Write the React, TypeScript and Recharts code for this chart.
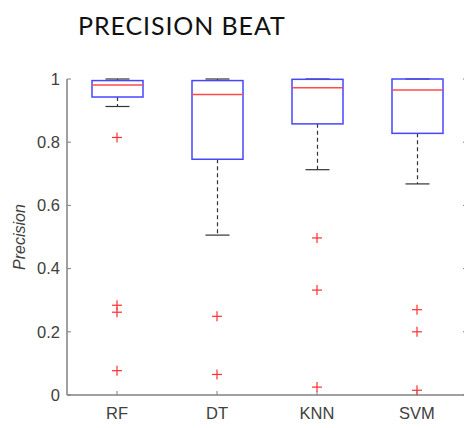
import { ComposedChart, Bar, Scatter, XAxis, YAxis, ReferenceLine } from 'recharts';

const categories = ['RF', 'DT', 'KNN', 'SVM'];
const q1 = [0.943, 0.746, 0.858, 0.828];
const medians = [0.981, 0.951, 0.972, 0.965];
const q3 = [0.995, 0.995, 0.999, 1.0];
const whiskerLow = [0.913, 0.506, 0.713, 0.668];
const whiskerHigh = [1.0, 1.0, 1.0, 1.0];
const outliers = [
  [0.815, 0.284, 0.262, 0.077],
  [0.249, 0.065],
  [0.497, 0.332, 0.025],
  [0.27, 0.2, 0.015],
];
const yTicks = [0, 0.2, 0.4, 0.6, 0.8, 1];

const data = categories.map((name, i) => ({
  name,
  box: [q1[i], q3[i]],
  q1: q1[i],
  q3: q3[i],
  median: medians[i],
  lo: whiskerLow[i],
  hi: whiskerHigh[i],
  o1: outliers[i][0] ?? null,
  o2: outliers[i][1] ?? null,
  o3: outliers[i][2] ?? null,
  o4: outliers[i][3] ?? null,
}));

const AXIS = '#808080';
const TEXT = '#404040';
const FONT = '"Liberation Sans", Arial, sans-serif';

// box + median + whiskers, positions derived from the bar the scale gave us
const BoxShape = (props: any) => {
  const { x, y, width, height, payload } = props;
  if (!payload || !isFinite(y)) return <g />;
  const ppu = height / (payload.q3 - payload.q1);
  const toY = (v: number) => y + (payload.q3 - v) * ppu;
  const cx = x + width / 2;
  const cap = 12;
  return (
    <g>
      <line x1={cx} x2={cx} y1={toY(payload.q3)} y2={toY(payload.hi)} stroke="#333" strokeWidth={1.2} strokeDasharray="4 3" />
      <line x1={cx} x2={cx} y1={toY(payload.q1)} y2={toY(payload.lo)} stroke="#333" strokeWidth={1.2} strokeDasharray="4 3" />
      <line x1={cx - cap} x2={cx + cap} y1={toY(payload.hi)} y2={toY(payload.hi)} stroke="#333" strokeWidth={1.2} />
      <line x1={cx - cap} x2={cx + cap} y1={toY(payload.lo)} y2={toY(payload.lo)} stroke="#333" strokeWidth={1.2} />
      <rect x={x} y={y} width={width} height={height} fill="none" stroke="#4646ff" strokeWidth={1.5} />
      <line x1={x} x2={x + width} y1={toY(payload.median)} y2={toY(payload.median)} stroke="#ff4a4a" strokeWidth={1.5} />
    </g>
  );
};

const PlusShape = (props: any) => {
  const { cx, cy, payload, field } = props;
  if (!payload || payload[field] == null || !isFinite(cx) || !isFinite(cy)) return <g />;
  const s = 5;
  return (
    <g stroke="#ff3030" strokeWidth={1.2}>
      <line x1={cx - s} x2={cx + s} y1={cy} y2={cy} />
      <line x1={cx} x2={cx} y1={cy - s} y2={cy + s} />
    </g>
  );
};

const LeftTick = (props: any) => {
  const { x, y, payload } = props;
  return (
    <g>
      <line x1={x + 7} x2={x + 11} y1={y} y2={y} stroke={AXIS} />
      <text x={x} y={y} dy="0.35em" textAnchor="end" fill={TEXT} fontSize={16.5} fontFamily={FONT}>
        {payload.value}
      </text>
    </g>
  );
};

const RightTick = (props: any) => {
  const { x, y } = props;
  return <line x1={x} x2={x - 4} y1={y} y2={y} stroke={AXIS} />;
};

const BottomTick = (props: any) => {
  const { x, y, payload } = props;
  return (
    <g>
      <line x1={x} x2={x} y1={y - 12} y2={y - 16} stroke={AXIS} />
      <text x={x} y={y} dy="0.71em" textAnchor="middle" fill={TEXT} fontSize={16.5} fontFamily={FONT}>
        {payload.value}
      </text>
    </g>
  );
};

const outlierFields = ['o1', 'o2', 'o3', 'o4'];

export default function App() {
  return (
    <div style={{ position: 'relative', width: 464, height: 428, overflow: 'hidden', background: '#fff' }}>
      <style>{'body{margin:0;overflow:hidden}'}</style>
      <div
        style={{
          position: 'absolute',
          left: 78,
          top: 10,
          fontFamily: 'Lato, "Noto Sans", sans-serif',
          fontSize: 25,
          color: '#111',
          letterSpacing: 0.9,
          lineHeight: '30px',
          whiteSpace: 'nowrap',
        }}
      >
        PRECISION BEAT
      </div>
      <ComposedChart
        width={480}
        height={428}
        data={data}
        margin={{ top: 79, right: 0, bottom: 0, left: 0 }}
        barSize={51}
      >
        <ReferenceLine y={1} stroke={AXIS} strokeWidth={1.5} />
        <XAxis
          dataKey="name"
          height={33}
          axisLine={{ stroke: AXIS, strokeWidth: 1.5 }}
          tickLine={false}
          tickSize={0}
          tickMargin={12}
          tick={<BottomTick />}
          interval={0}
        />
        <YAxis
          yAxisId="left"
          width={67}
          domain={[0, 1]}
          ticks={yTicks}
          axisLine={{ stroke: AXIS, strokeWidth: 1.5 }}
          tickLine={false}
          tickSize={0}
          tickMargin={7}
          tick={<LeftTick />}
          label={{
            value: 'Precision',
            angle: -90,
            position: 'insideLeft',
            offset: 19,
            style: { textAnchor: 'middle', fontSize: 16, fontStyle: 'italic', fill: TEXT, fontFamily: FONT },
          }}
        />
        <YAxis
          yAxisId="right"
          orientation="right"
          width={13}
          domain={[0, 1]}
          ticks={yTicks}
          axisLine={{ stroke: AXIS }}
          tickLine={false}
          tickSize={0}
          tickMargin={0}
          tick={<RightTick />}
        />
        <Bar yAxisId="left" dataKey="box" shape={<BoxShape />} isAnimationActive={false} />
        {outlierFields.map((f, i) => (
          <Scatter
            key={f}
            yAxisId={i === 3 ? 'right' : 'left'}
            dataKey={f}
            shape={<PlusShape field={f} />}
            isAnimationActive={false}
          />
        ))}
      </ComposedChart>
    </div>
  );
}
